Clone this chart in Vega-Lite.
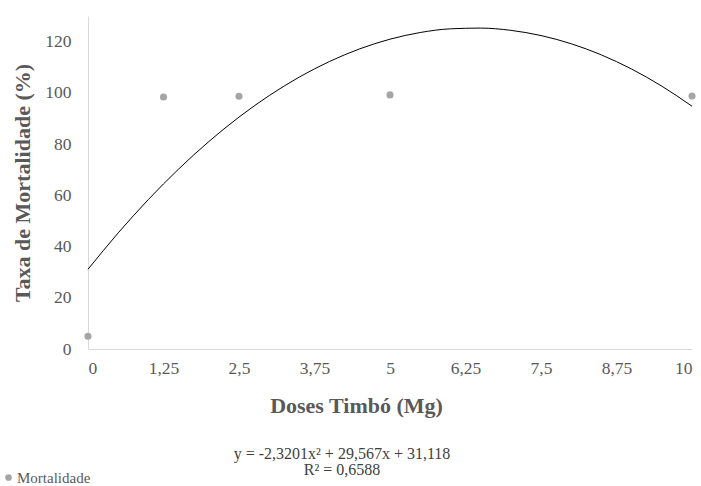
{
  "$schema": "https://vega.github.io/schema/vega-lite/v6.json",
  "width": 604,
  "height": 333,
  "autosize": {"type": "none"},
  "padding": {"left": 88, "top": 16, "right": 9, "bottom": 137},
  "background": "white",
  "config": {
    "font": "Liberation Serif",
    "view": {"stroke": null},
    "axis": {
      "grid": false,
      "ticks": false,
      "domainColor": "#d9d9d9",
      "domainWidth": 1,
      "labelColor": "#595959",
      "labelFont": "Liberation Serif",
      "labelFontSize": 17.5,
      "titleColor": "#595959",
      "titleFont": "Liberation Serif",
      "titleFontSize": 22,
      "titleFontWeight": "bold"
    }
  },
  "title": {
    "text": ["y = -2,3201x² + 29,567x + 31,118", "R² = 0,6588"],
    "orient": "bottom",
    "anchor": "middle",
    "font": "Liberation Serif",
    "fontSize": 16,
    "fontWeight": "normal",
    "color": "#404040",
    "lineHeight": 16,
    "offset": -40,
    "dx": -48
  },
  "datasets": {
    "pts": [
      {"dose": 0, "mort": 5},
      {"dose": 1.25, "mort": 98.4},
      {"dose": 2.5, "mort": 98.7},
      {"dose": 5, "mort": 99.2},
      {"dose": 10, "mort": 98.8}
    ],
    "fit": [
      {"dose": 0, "y": 31.118},
      {"dose": 0.5, "y": 45.322},
      {"dose": 1, "y": 58.365},
      {"dose": 1.5, "y": 70.249},
      {"dose": 2, "y": 80.972},
      {"dose": 2.5, "y": 90.535},
      {"dose": 3, "y": 98.938},
      {"dose": 3.5, "y": 106.182},
      {"dose": 4, "y": 112.264},
      {"dose": 4.5, "y": 117.188},
      {"dose": 5, "y": 120.95},
      {"dose": 5.5, "y": 123.554},
      {"dose": 6, "y": 124.996},
      {"dose": 6.5, "y": 125.28},
      {"dose": 7, "y": 124.402},
      {"dose": 7.5, "y": 122.365},
      {"dose": 8, "y": 119.168},
      {"dose": 8.5, "y": 114.811},
      {"dose": 9, "y": 109.293},
      {"dose": 9.5, "y": 102.616},
      {"dose": 10, "y": 94.778}
    ]
  },
  "layer": [
    {
      "data": {"name": "fit"},
      "mark": {"type": "line", "color": "#000000", "strokeWidth": 1, "interpolate": "monotone"},
      "encoding": {
        "x": {
          "field": "dose", "type": "quantitative",
          "scale": {"domain": [0, 10], "nice": false},
          "axis": {
            "values": [0, 1.25, 2.5, 3.75, 5, 6.25, 7.5, 8.75, 10],
            "labelExpr": "replace(format(datum.value, ''), '.', ',')",
            "labelPadding": 10,
            "title": "Doses Timbó  (Mg)",
            "titlePadding": 19,
            "titleX": 268
          }
        },
        "y": {
          "field": "y", "type": "quantitative",
          "scale": {"domain": [0, 130], "nice": false},
          "axis": {
            "values": [0, 20, 40, 60, 80, 100, 120],
            "labelPadding": 17,
            "title": "Taxa de Mortalidade (%)",
            "titlePadding": 10
          }
        }
      }
    },
    {
      "data": {"name": "pts"},
      "mark": {"type": "circle", "size": 50, "opacity": 1},
      "encoding": {
        "x": {"field": "dose", "type": "quantitative"},
        "y": {"field": "mort", "type": "quantitative"},
        "color": {
          "datum": "Mortalidade",
          "scale": {"range": ["#a5a5a5"]},
          "legend": {
            "title": null,
            "orient": "none",
            "legendX": -87,
            "legendY": 454,
            "symbolType": "circle",
            "symbolSize": 45,
            "labelFont": "Liberation Serif",
            "labelFontSize": 15,
            "labelColor": "#595959",
            "labelOffset": 1
          }
        }
      }
    }
  ]
}
